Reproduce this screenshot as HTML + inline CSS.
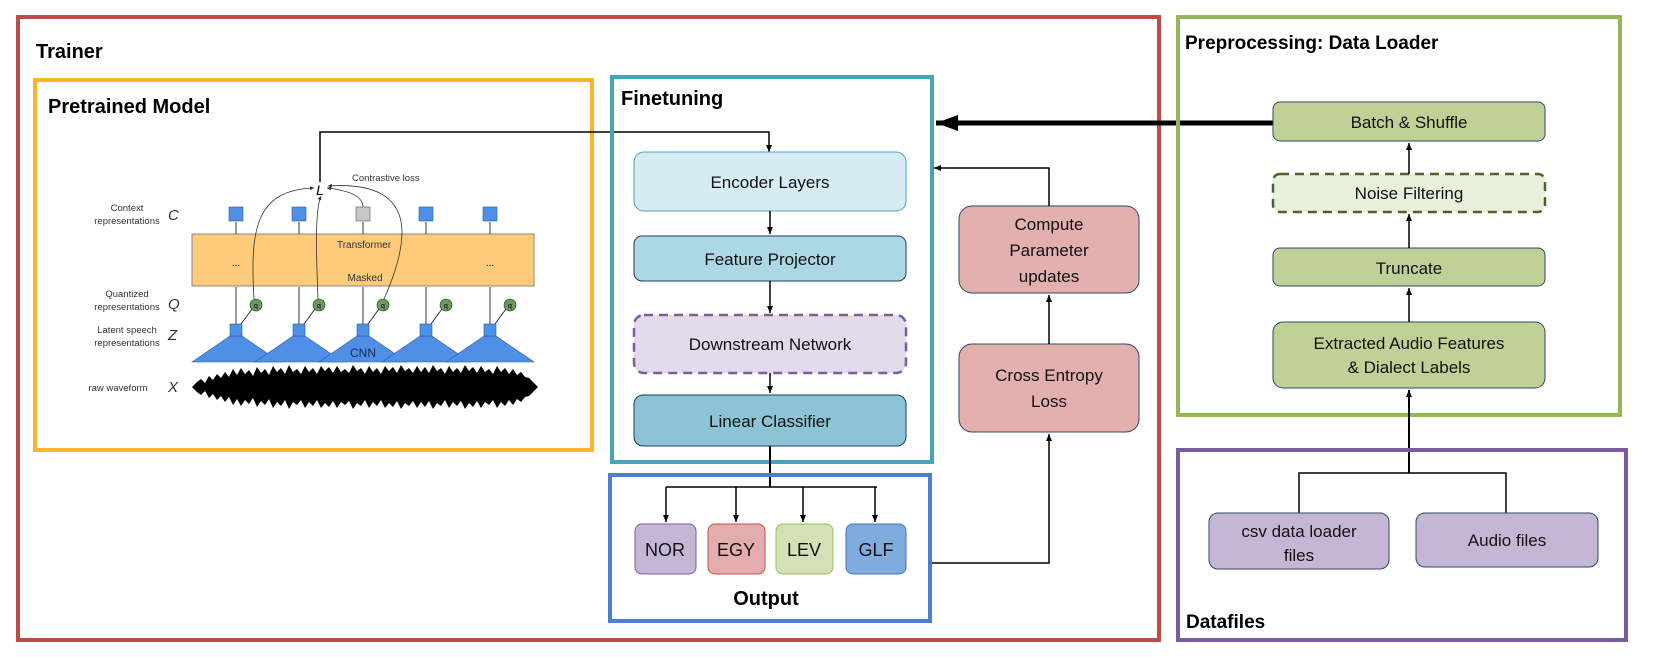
<!DOCTYPE html>
<html><head><meta charset="utf-8"><style>
html,body{margin:0;padding:0;background:#fff;}
svg{display:block;}
text{font-family:"Liberation Sans",sans-serif;}
</style></head><body>
<svg width="1666" height="671" viewBox="0 0 1666 671" xmlns="http://www.w3.org/2000/svg">
<defs>
<marker id="a" markerWidth="8" markerHeight="8" refX="7" refY="4" orient="auto" markerUnits="userSpaceOnUse"><path d="M0,1 L7,4 L0,7 z" fill="#000"/></marker>
<marker id="big" markerWidth="24" markerHeight="20" refX="22" refY="10" orient="auto" markerUnits="userSpaceOnUse"><path d="M0,2 L22,10 L0,18 z" fill="#000"/></marker>
<marker id="s" markerWidth="5" markerHeight="5" refX="4" refY="2.5" orient="auto" markerUnits="userSpaceOnUse"><path d="M0,0.5 L4,2.5 L0,4.5 z" fill="#333"/></marker>
</defs>

<!-- Trainer -->
<rect x="18" y="17" width="1141" height="623" fill="none" stroke="#be4b48" stroke-width="4"/>
<text x="36" y="58" font-size="20" font-weight="bold">Trainer</text>

<!-- Pretrained -->
<rect x="35" y="80" width="557" height="370" fill="none" stroke="#fbb52b" stroke-width="4"/>
<text x="48" y="113" font-size="20" font-weight="bold">Pretrained Model</text>

<g font-size="9.5" fill="#333" text-anchor="middle">
<text x="127" y="211">Context</text><text x="127" y="224">representations</text>
<text x="127" y="297">Quantized</text><text x="127" y="310">representations</text>
<text x="127" y="333">Latent speech</text><text x="127" y="346">representations</text>
<text x="118" y="391">raw waveform</text>
</g>
<g font-family="Liberation Serif" font-style="italic" font-size="15" fill="#333">
<text x="168" y="220">C</text><text x="168" y="309">Q</text><text x="168" y="340">Z</text><text x="168" y="392">X</text>
</g>
<rect x="192" y="234" width="342" height="52" fill="#fdcb7a" stroke="#888" stroke-width="1"/>
<text x="364" y="248" font-size="10" text-anchor="middle" fill="#333">Transformer</text>
<text x="365" y="281" font-size="10" text-anchor="middle" fill="#333">Masked</text>
<text x="236" y="266" font-size="10" text-anchor="middle">...</text>
<text x="490" y="266" font-size="10" text-anchor="middle">...</text>
<g stroke="#333" stroke-width="1">
<line x1="236" y1="234" x2="236" y2="222"/><line x1="299" y1="234" x2="299" y2="222"/><line x1="363" y1="234" x2="363" y2="222"/><line x1="426" y1="234" x2="426" y2="222"/><line x1="490" y1="234" x2="490" y2="222"/>
<line x1="236" y1="324" x2="236" y2="287"/><line x1="299" y1="324" x2="299" y2="287"/><line x1="363" y1="324" x2="363" y2="287"/><line x1="426" y1="324" x2="426" y2="287"/><line x1="490" y1="324" x2="490" y2="287"/>
<line x1="241" y1="324" x2="252" y2="309"/><line x1="304" y1="324" x2="315" y2="309"/><line x1="368" y1="324" x2="379" y2="309"/><line x1="431" y1="324" x2="442" y2="309"/><line x1="495" y1="324" x2="506" y2="309"/>
</g>
<g fill="#4f8fe6" stroke="#2a5aa0" stroke-width="0.6">
<rect x="229" y="207" width="14" height="14"/><rect x="292" y="207" width="14" height="14"/><rect x="356" y="207" width="14" height="14" fill="#c8c8c8" stroke="#555"/><rect x="419" y="207" width="14" height="14"/><rect x="483" y="207" width="14" height="14"/>
<path d="M192,362 L230,336 L242,336 L280,362 z"/><path d="M255,362 L293,336 L305,336 L343,362 z"/><path d="M319,362 L357,336 L369,336 L407,362 z"/><path d="M382,362 L420,336 L432,336 L470,362 z"/><path d="M446,362 L484,336 L496,336 L534,362 z"/>
<rect x="230" y="324" width="12" height="12"/><rect x="293" y="324" width="12" height="12"/><rect x="357" y="324" width="12" height="12"/><rect x="420" y="324" width="12" height="12"/><rect x="484" y="324" width="12" height="12"/>
</g>
<text x="363" y="357" font-size="12" text-anchor="middle" fill="#1a2a50">CNN</text>
<g fill="#6a9a5c" stroke="#333" stroke-width="0.6">
<circle cx="256" cy="305" r="6"/><circle cx="319" cy="305" r="6"/><circle cx="383" cy="305" r="6"/><circle cx="446" cy="305" r="6"/><circle cx="510" cy="305" r="6"/>
</g>
<g font-size="7" text-anchor="middle"><text x="256" y="308">q</text><text x="319" y="308">q</text><text x="383" y="308">q</text><text x="446" y="308">q</text><text x="510" y="308">q</text></g>
<g fill="none" stroke="#333" stroke-width="0.8">
<path d="M254,299 C250,230 255,190 314,188" marker-end="url(#s)"/>
<path d="M318,299 C316,250 315,210 321,196" marker-end="url(#s)"/>
<path d="M363,207 C363,195 345,190 327,188" marker-end="url(#s)"/>
<path d="M384,299 C410,240 420,180 328,186" marker-end="url(#s)"/>
</g>
<text x="320" y="195" font-family="Liberation Serif" font-style="italic" font-size="14" text-anchor="middle">L</text>
<text x="352" y="181" font-size="9.5" fill="#333">Contrastive loss</text>
<!-- waveform -->
<polygon fill="#000" points="192,387 197,382 201,379 205,383 209,376 213,380 217,374 221,378 225,372 229,377 233,369 237,375 241,368 245,374 249,370 253,376 257,367 261,373 265,369 269,375 273,366 277,372 281,368 285,374 289,365 293,372 297,369 301,374 305,366 309,372 313,368 317,374 321,366 325,371 329,367 333,373 337,366 341,372 345,369 349,373 353,365 357,371 361,368 365,374 369,366 373,372 377,368 381,374 385,366 389,371 393,367 397,373 401,365 405,371 409,368 413,373 417,366 421,372 425,367 429,373 433,365 437,371 441,368 445,374 449,366 453,372 457,368 461,373 465,365 469,371 473,367 477,373 481,366 485,372 489,369 493,374 497,366 501,372 505,368 509,374 513,369 517,375 521,372 525,377 529,378 533,382 538,387 533,392 529,396 525,397 521,402 517,399 513,405 509,400 505,406 501,402 497,408 493,400 489,405 485,402 481,408 477,401 473,407 469,403 465,409 461,401 457,406 453,402 449,408 445,400 441,406 437,403 433,409 429,401 425,407 421,402 417,408 413,401 409,406 405,403 401,409 397,401 393,407 389,403 385,408 381,400 377,406 373,402 369,408 365,400 361,406 357,403 353,409 349,401 345,405 341,402 337,408 333,401 329,407 325,403 321,408 317,400 313,406 309,402 305,408 301,400 297,405 293,402 289,409 285,400 281,406 277,402 273,408 269,399 265,405 261,401 257,407 253,398 249,404 245,400 241,406 237,399 233,405 229,397 225,402 221,396 217,400 213,394 209,398 205,391 201,395 197,392"/>

<!-- L to encoder -->
<path d="M320,182 L320,132 L769,132 L769,152" fill="none" stroke="#000" stroke-width="1.5" marker-end="url(#a)"/>

<!-- Finetuning -->
<rect x="612" y="77" width="320" height="385" fill="none" stroke="#45a3bd" stroke-width="4"/>
<text x="621" y="105" font-size="20" font-weight="bold">Finetuning</text>
<g font-size="17" text-anchor="middle" fill="#111">
<rect x="634" y="152" width="272" height="59" rx="10" fill="#d7ebf2" stroke="#4aa6c0" stroke-width="1"/>
<text x="770" y="188">Encoder Layers</text>
<rect x="634" y="236" width="272" height="45" rx="8" fill="#acd7e4" stroke="#1f3b66" stroke-width="1"/>
<text x="770" y="265">Feature Projector</text>
<rect x="634" y="315" width="272" height="58" rx="10" fill="#e2dbe9" stroke="#7b5ea0" stroke-width="2.5" stroke-dasharray="9,6"/>
<text x="770" y="350">Downstream Network</text>
<rect x="634" y="395" width="272" height="51" rx="9" fill="#8ac4d5" stroke="#1f3b66" stroke-width="1"/>
<text x="770" y="427">Linear Classifier</text>
</g>
<g stroke="#000" stroke-width="1.5" fill="none">
<path d="M770,211 L770,234" marker-end="url(#a)"/>
<path d="M770,281 L770,313" marker-end="url(#a)"/>
<path d="M770,373 L770,393" marker-end="url(#a)"/>
<path d="M770,446 L770,487" stroke-width="2"/>
<path d="M666,487 L877,487"/>
<path d="M666,487 L666,522" marker-end="url(#a)"/>
<path d="M736,487 L736,522" marker-end="url(#a)"/>
<path d="M803,487 L803,522" marker-end="url(#a)"/>
<path d="M875,487 L875,522" marker-end="url(#a)"/>
</g>

<!-- Output -->
<rect x="610" y="475" width="320" height="146" fill="none" stroke="#4a7fd0" stroke-width="4"/>
<g font-size="18" text-anchor="middle" fill="#111">
<rect x="635" y="524" width="61" height="50" rx="7" fill="#c5b6d6" stroke="#7b5ea0"/><text x="665" y="556">NOR</text>
<rect x="708" y="524" width="57" height="50" rx="7" fill="#e3adad" stroke="#c0504d"/><text x="736" y="556">EGY</text>
<rect x="776" y="524" width="57" height="50" rx="7" fill="#d3e2b6" stroke="#9bbb59"/><text x="804" y="556">LEV</text>
<rect x="846" y="524" width="60" height="50" rx="7" fill="#80abdd" stroke="#3e72c0"/><text x="876" y="556">GLF</text>
</g>
<text x="766" y="605" font-size="20" font-weight="bold" text-anchor="middle">Output</text>

<!-- loss boxes -->
<g font-size="17" text-anchor="middle" fill="#111">
<rect x="959" y="206" width="180" height="87" rx="13" fill="#e3afaf" stroke="#2c4a5e" stroke-width="1"/>
<text x="1049" y="230">Compute</text><text x="1049" y="256">Parameter</text><text x="1049" y="282">updates</text>
<rect x="959" y="344" width="180" height="88" rx="13" fill="#e3afaf" stroke="#2c4a5e" stroke-width="1"/>
<text x="1049" y="381">Cross Entropy</text><text x="1049" y="407">Loss</text>
</g>
<g stroke="#000" stroke-width="1.5" fill="none">
<path d="M932,563 L1049,563 L1049,434" marker-end="url(#a)"/>
<path d="M1049,344 L1049,295" marker-end="url(#a)"/>
<path d="M1049,206 L1049,168 L934,168" marker-end="url(#a)"/>
<path d="M1273,123 L936,123" stroke-width="5" marker-end="url(#big)"/>
</g>

<!-- Preprocessing -->
<rect x="1178" y="17" width="442" height="398" fill="none" stroke="#94b656" stroke-width="4"/>
<text x="1185" y="49" font-size="19" font-weight="bold">Preprocessing: Data Loader</text>
<g font-size="17" text-anchor="middle" fill="#111">
<rect x="1273" y="102" width="272" height="39" rx="7" fill="#bfd196" stroke="#2c4a5e"/><text x="1409" y="128">Batch &amp; Shuffle</text>
<rect x="1273" y="174" width="272" height="38" rx="7" fill="#e8f0dc" stroke="#4f6228" stroke-width="2.5" stroke-dasharray="9,6"/><text x="1409" y="199">Noise Filtering</text>
<rect x="1273" y="248" width="272" height="38" rx="7" fill="#bfd196" stroke="#2c4a5e"/><text x="1409" y="274">Truncate</text>
<rect x="1273" y="322" width="272" height="66" rx="10" fill="#bfd196" stroke="#2c4a5e"/><text x="1409" y="349">Extracted Audio Features</text><text x="1409" y="373">&amp; Dialect Labels</text>
</g>
<g stroke="#000" stroke-width="1.5" fill="none">
<path d="M1409,174 L1409,143" marker-end="url(#a)"/>
<path d="M1409,248 L1409,214" marker-end="url(#a)"/>
<path d="M1409,322 L1409,288" marker-end="url(#a)"/>
<path d="M1409,473 L1409,390" stroke-width="2" marker-end="url(#a)"/>
<path d="M1299,513 L1299,473 L1506,473 L1506,513"/>
</g>

<!-- Datafiles -->
<rect x="1178" y="450" width="448" height="190" fill="none" stroke="#7a5c9c" stroke-width="4"/>
<g font-size="17" text-anchor="middle" fill="#111">
<rect x="1209" y="513" width="180" height="56" rx="9" fill="#c5b6d6" stroke="#2c4a5e"/><text x="1299" y="537">csv data loader</text><text x="1299" y="561">files</text>
<rect x="1416" y="513" width="182" height="54" rx="9" fill="#c5b6d6" stroke="#2c4a5e"/><text x="1507" y="546">Audio files</text>
</g>
<text x="1186" y="628" font-size="19" font-weight="bold">Datafiles</text>
</svg>
</body></html>
